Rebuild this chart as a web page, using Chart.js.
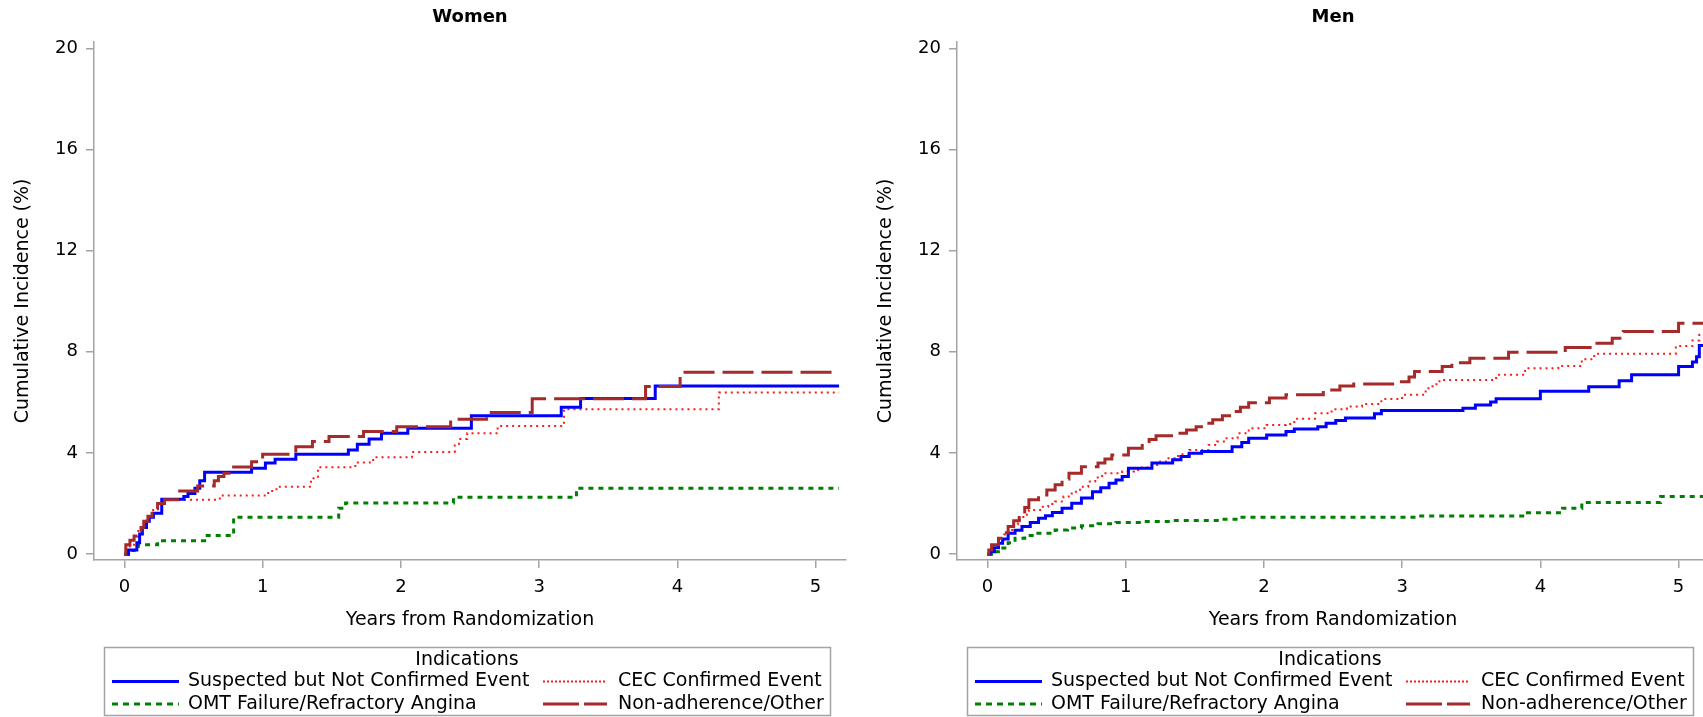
<!DOCTYPE html>
<html>
<head>
<meta charset="utf-8">
<script src="https://cdn.jsdelivr.net/npm/chart.js@4.4.1/dist/chart.umd.min.js"></script>
<style>
  html, body { margin: 0; padding: 0; background: #fff; overflow: hidden; }
  body { width: 1703px; height: 717px; position: relative; }
  .panel { position: absolute; top: 0; width: 863px; height: 717px; }
  #womenBox { left: 0; }
  #menBox { left: 863px; }
</style>
</head>
<body>
<div class="panel" id="womenBox"><canvas id="womenChart" width="863" height="717"></canvas></div>
<div class="panel" id="menBox"><canvas id="menChart" width="863" height="717"></canvas></div>
<script>
// tick values
const xTicks = [0, 1, 2, 3, 4, 5];
const yTicks = [0, 4, 8, 12, 16, 20];

const seriesNames = [
  "Suspected but Not Confirmed Event",
  "CEC Confirmed Event",
  "OMT Failure/Refractory Angina",
  "Non-adherence/Other"
];

// Women, [years, cumulative incidence %]
const womenSuspected = [[0,0],[0.03,0.17],[0.09,0.45],[0.11,0.8],[0.13,1.05],[0.16,1.3],[0.18,1.46],[0.21,1.62],[0.27,2.17],[0.43,2.28],[0.46,2.4],[0.51,2.61],[0.545,2.9],[0.58,3.24],[0.92,3.4],[1.02,3.6],[1.09,3.75],[1.24,3.95],[1.62,4.12],[1.685,4.35],[1.77,4.55],[1.86,4.78],[2.05,4.98],[2.51,5.47],[3.16,5.81],[3.3,6.15],[3.84,6.65],[5.17,6.65]];
const womenCEC = [[0,0],[0.03,0.3],[0.07,0.7],[0.1,1.0],[0.14,1.3],[0.17,1.5],[0.2,1.75],[0.24,2.0],[0.28,2.15],[0.69,2.32],[1.04,2.5],[1.1,2.67],[1.35,3.0],[1.4,3.44],[1.67,3.62],[1.8,3.83],[2.08,4.04],[2.39,4.3],[2.42,4.55],[2.48,4.78],[2.7,5.07],[3.18,5.73],[4.3,6.39],[5.17,6.39]];
const womenOMT = [[0,0],[0.05,0.15],[0.1,0.37],[0.24,0.53],[0.58,0.74],[0.79,1.46],[1.55,1.82],[1.6,2.02],[2.38,2.25],[3.27,2.61],[5.17,2.61]];
const womenNonAdh = [[0,0],[0.01,0.37],[0.04,0.55],[0.07,0.72],[0.12,1.05],[0.14,1.3],[0.17,1.5],[0.2,1.8],[0.24,2.0],[0.29,2.15],[0.4,2.5],[0.53,2.7],[0.65,2.9],[0.68,3.07],[0.72,3.2],[0.79,3.45],[0.92,3.65],[1.0,3.95],[1.24,4.25],[1.36,4.45],[1.48,4.65],[1.73,4.85],[1.97,5.04],[2.36,5.33],[2.62,5.6],[2.95,6.14],[3.77,6.63],[4.02,7.19],[5.17,7.19]];

// Men, [years, cumulative incidence %]
const menSuspected = [[0,0],[0.02,0.1],[0.05,0.25],[0.08,0.43],[0.11,0.6],[0.15,0.83],[0.2,0.95],[0.25,1.09],[0.31,1.25],[0.37,1.42],[0.42,1.52],[0.47,1.65],[0.54,1.82],[0.61,2.01],[0.68,2.22],[0.76,2.47],[0.82,2.63],[0.88,2.8],[0.93,2.93],[0.975,3.07],[1.02,3.4],[1.19,3.6],[1.34,3.73],[1.4,3.86],[1.46,3.99],[1.55,4.06],[1.77,4.25],[1.84,4.42],[1.89,4.58],[2.02,4.71],[2.16,4.85],[2.22,4.95],[2.39,5.04],[2.45,5.18],[2.52,5.28],[2.59,5.38],[2.8,5.55],[2.85,5.68],[3.44,5.77],[3.53,5.9],[3.64,6.02],[3.68,6.14],[4.0,6.44],[4.35,6.62],[4.57,6.86],[4.66,7.09],[5.0,7.42],[5.1,7.6],[5.13,7.81],[5.15,8.25],[5.22,8.25]];
const menCEC = [[0,0],[0.01,0.1],[0.05,0.35],[0.08,0.57],[0.12,0.78],[0.15,0.96],[0.19,1.17],[0.22,1.36],[0.26,1.56],[0.3,1.75],[0.39,1.88],[0.44,1.98],[0.49,2.08],[0.55,2.28],[0.61,2.47],[0.67,2.67],[0.73,2.87],[0.78,3.03],[0.83,3.2],[0.975,3.27],[1.06,3.33],[1.12,3.43],[1.19,3.53],[1.25,3.66],[1.31,3.79],[1.38,3.95],[1.46,4.12],[1.6,4.32],[1.66,4.45],[1.73,4.58],[1.81,4.78],[1.89,4.98],[2.02,5.11],[2.16,5.15],[2.22,5.35],[2.37,5.57],[2.49,5.73],[2.6,5.84],[2.71,5.94],[2.85,6.13],[3.0,6.3],[3.17,6.56],[3.22,6.72],[3.27,6.89],[3.68,7.09],[3.89,7.35],[4.13,7.44],[4.3,7.71],[4.39,7.92],[4.98,8.23],[5.1,8.45],[5.15,8.67],[5.22,8.67]];
const menOMT = [[0,0],[0.03,0.1],[0.1,0.24],[0.15,0.45],[0.2,0.63],[0.27,0.74],[0.345,0.83],[0.49,0.96],[0.58,1.04],[0.68,1.12],[0.8,1.2],[0.93,1.25],[1.12,1.29],[1.34,1.33],[1.7,1.38],[1.82,1.46],[3.1,1.51],[3.89,1.64],[4.16,1.82],[4.3,2.04],[4.87,2.28],[5.22,2.28]];
const menNonAdh = [[0,0],[0.01,0.17],[0.03,0.37],[0.08,0.63],[0.11,0.85],[0.15,1.09],[0.19,1.32],[0.23,1.55],[0.27,1.85],[0.3,2.15],[0.37,2.34],[0.43,2.54],[0.49,2.74],[0.54,2.97],[0.59,3.2],[0.68,3.46],[0.8,3.6],[0.85,3.76],[0.9,3.92],[1.02,4.19],[1.12,4.39],[1.17,4.53],[1.22,4.68],[1.37,4.78],[1.44,4.91],[1.51,5.04],[1.57,5.18],[1.63,5.31],[1.7,5.47],[1.77,5.64],[1.83,5.81],[1.89,5.99],[2.04,6.17],[2.16,6.3],[2.43,6.49],[2.55,6.65],[2.65,6.73],[2.97,6.82],[3.05,7.0],[3.09,7.22],[3.29,7.42],[3.36,7.57],[3.49,7.75],[3.77,7.98],[4.18,8.17],[4.36,8.34],[4.52,8.54],[4.6,8.8],[5.0,9.13],[5.22,9.13]];

// line styles per series (same order as seriesNames)
const styles = [
  { color: "#0000ff", width: 3, dash: [], legendDash: [] },
  { color: "#ff1a1a", width: 2, dash: [2, 4], legendDash: [2, 2] },
  { color: "#008000", width: 3, dash: [5, 5], legendDash: [6, 5] },
  { color: "#a52a2a", width: 3, dash: [31, 8], legendDash: [36, 5] }
];

Chart.defaults.font.family = '"DejaVu Sans", sans-serif';
Chart.defaults.color = "#000";

const axisGray = "#a3a3a3";

function toXY(arr) {
  return arr.map(p => ({ x: p[0], y: p[1] }));
}

// boxed two-column legend like the original
const boxLegend = {
  id: "boxLegend",
  afterDraw(chart) {
    const ctx = chart.ctx;
    ctx.save();
    ctx.strokeStyle = axisGray;
    ctx.lineWidth = 1.5;
    ctx.strokeRect(104.5, 647.5, 726, 68);

    ctx.fillStyle = "#000";
    ctx.font = '19px "DejaVu Sans"';
    ctx.textBaseline = "middle";
    ctx.textAlign = "center";
    ctx.fillText("Indications", 467, 660);

    // slots: [lineX0, lineX1, textX, y]
    const slots = [
      [112, 179, 188, 681.5],
      [543, 605, 618, 681.5],
      [112, 179, 188, 704],
      [543, 607, 618, 704]
    ];
    ctx.textAlign = "left";
    for (let i = 0; i < seriesNames.length; i++) {
      const s = slots[i];
      const st = styles[i];
      ctx.strokeStyle = st.color;
      ctx.lineWidth = st.width;
      ctx.setLineDash(st.legendDash);
      ctx.beginPath();
      ctx.moveTo(s[0], s[3]);
      ctx.lineTo(s[1], s[3]);
      ctx.stroke();
      ctx.setLineDash([]);
      ctx.fillText(seriesNames[i], s[2], s[3]);
    }
    ctx.restore();
  }
};

function makeChart(canvasId, title, suspected, cec, omt, nonAdh) {
  const series = [suspected, cec, omt, nonAdh];
  // draw order: non-adherence on top
  const datasets = [3, 0, 1, 2].map(i => ({
    label: seriesNames[i],
    data: toXY(series[i]),
    borderColor: styles[i].color,
    borderWidth: styles[i].width,
    borderDash: styles[i].dash,
    stepped: true,
    fill: false,
    pointRadius: 0,
    pointHoverRadius: 0
  }));

  return new Chart(document.getElementById(canvasId), {
    type: "line",
    data: { datasets: datasets },
    options: {
      responsive: false,
      animation: false,
      layout: { padding: { left: 0, right: 17, top: 0, bottom: 0 } },
      plugins: {
        legend: { display: false },
        tooltip: { enabled: false },
        title: {
          display: true,
          text: title,
          fullSize: false,
          color: "#000",
          font: { size: 18, weight: "bold" },
          padding: { top: 6.7, bottom: 13.4 }
        }
      },
      scales: {
        x: {
          type: "linear",
          min: -0.22,
          max: 5.22,
          afterBuildTicks: s => { s.ticks = xTicks.map(v => ({ value: v })); },
          afterFit: s => { s.height = 157; s.paddingLeft = 0; s.paddingRight = 0; },
          ticks: { font: { size: 18 }, color: "#000", padding: 9, autoSkip: false, maxRotation: 0 },
          grid: { drawOnChartArea: false, drawTicks: true, tickLength: 8, color: axisGray, lineWidth: 1.5 },
          border: { color: axisGray, width: 1.5 },
          title: {
            display: true,
            text: "Years from Randomization",
            color: "#000",
            font: { size: 19 },
            padding: { top: 0, bottom: 85.6 }
          }
        },
        y: {
          type: "linear",
          min: -0.23,
          max: 20.26,
          afterBuildTicks: s => { s.ticks = yTicks.map(v => ({ value: v })); },
          afterFit: s => { s.width = 94; s.paddingTop = 0; s.paddingBottom = 0; },
          ticks: { font: { size: 18 }, color: "#000", padding: 8, autoSkip: false },
          grid: { drawOnChartArea: false, drawTicks: true, tickLength: 8, color: axisGray, lineWidth: 1.5 },
          border: { color: axisGray, width: 1.5 },
          title: {
            display: true,
            text: "Cumulative Incidence (%)",
            color: "#000",
            font: { size: 19 },
            padding: { top: 11.2, bottom: 0 }
          }
        }
      }
    },
    plugins: [boxLegend]
  });
}

makeChart("womenChart", "Women", womenSuspected, womenCEC, womenOMT, womenNonAdh);
makeChart("menChart", "Men", menSuspected, menCEC, menOMT, menNonAdh);
</script>
</body>
</html>
